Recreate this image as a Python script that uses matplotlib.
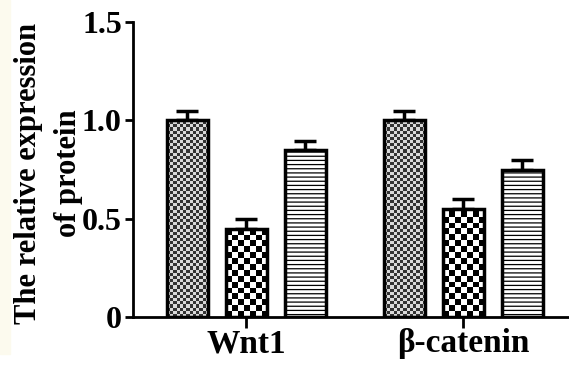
import numpy as np
import matplotlib.pyplot as plt
from matplotlib.patches import Rectangle

# protein groups and the three bar series
groups = ['Wnt1', 'β-catenin']
series_a = [1.00, 1.00]
series_b = [0.45, 0.55]
series_c = [0.85, 0.75]
err_a = [0.05, 0.05]
err_b = [0.05, 0.05]
err_c = [0.045, 0.05]
y_ticks = [0, 0.5, 1.0, 1.5]
y_tick_labels = ['0', '0.5', '1.0', '1.5']

plt.rcParams['font.family'] = ['Liberation Serif', 'DejaVu Serif']
plt.rcParams['font.weight'] = 'bold'
plt.rcParams['hatch.linewidth'] = 0.9

fig = plt.figure(figsize=(5.69, 3.65), dpi=100)
# faint cream strip on the left edge
fig.patches.append(Rectangle((0, 0.03), 0.018, 0.97, transform=fig.transFigure,
                             color='#fcfaee', zorder=0))
ax = fig.add_axes([0.2337, 0.1315, 0.7663, 0.8082])
ax.set_xlim(-0.521, 1.488)
ax.set_ylim(0, 1.5)

x = np.arange(len(groups))
w = 0.189
off = 0.272


def checker_fill(bars, ncol, dark, light):
    # fill each bar with a checkerboard clipped to the bar
    px_x = ax.transData.transform((w, 0))[0] - ax.transData.transform((0, 0))[0]
    px_y = ax.transData.transform((0, 1))[1] - ax.transData.transform((0, 0))[1]
    for b in bars:
        cell = px_x / ncol
        nrow = int(np.ceil(b.get_height() * px_y / cell))
        rr, cc = np.indices((nrow, ncol))
        board = np.where((rr + cc) % 2 == 0, dark, light)
        top = b.get_y() + nrow * cell / px_y
        im = ax.imshow(board, cmap='gray', vmin=0, vmax=1, interpolation='nearest',
                       aspect='auto', extent=(b.get_x(), b.get_x() + w, top, b.get_y()),
                       origin='upper', zorder=1.5)
        im.set_clip_path(b)
        b.set_facecolor('none')


hatches = [None, None, '----']
all_series = [(series_a, err_a), (series_b, err_b), (series_c, err_c)]
for i, (vals, errs) in enumerate(all_series):
    bars = ax.bar(x + (i - 1) * off, vals, w, color='white', edgecolor='black',
                  linewidth=2.5, hatch=hatches[i], zorder=2)
    ax.errorbar(x + (i - 1) * off, vals, yerr=[np.zeros(len(errs)), errs], fmt='none',
                ecolor='black', elinewidth=2.5, capsize=8, capthick=2.5, zorder=1)
    if i == 0:
        checker_fill(bars, 13, 0.2, 0.85)
    elif i == 1:
        checker_fill(bars, 7, 0.0, 1.0)

ax.set_xlim(-0.521, 1.488)
ax.set_ylim(0, 1.5)
ax.set_yticks(y_ticks)
ax.set_yticklabels(y_tick_labels, fontsize=23, fontweight='bold')
ax.set_xticks(x)
ax.set_xticklabels(groups, fontsize=24, fontweight='bold')
ax.tick_params(axis='y', length=6, width=2, pad=2)
ax.tick_params(axis='x', length=8, width=2, pad=0)
ax.spines['top'].set_visible(False)
ax.spines['right'].set_visible(False)
ax.spines['left'].set_linewidth(2)
ax.spines['bottom'].set_linewidth(2)

fig.text(0.086, 0.525, 'The relative expression\nof protein', rotation=90,
         ha='center', va='center', multialignment='center', fontsize=22,
         fontweight='bold', linespacing=1.5)

fig.savefig('out.png', dpi=100)
